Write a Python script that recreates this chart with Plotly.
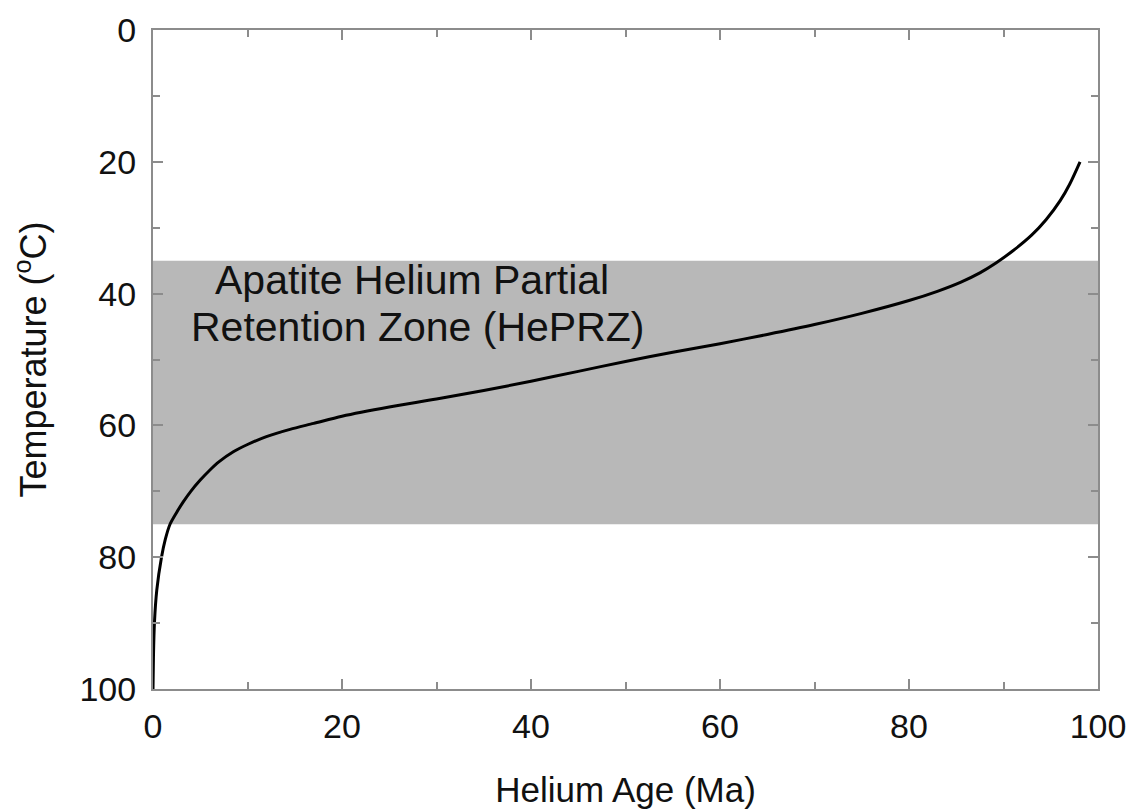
import plotly.graph_objects as go

# Helium age vs. temperature curve (age in Ma, temperature in °C)
helium_age_ma = [0, 0.05, 0.15, 0.4, 0.9, 1.3, 1.8, 2.5, 3.2, 4, 5, 6, 7, 8.5, 10,
                 12, 14.5, 17, 20, 25, 30, 35, 40, 45, 50, 55, 60, 65, 70, 75, 80,
                 83, 85.5, 87.5, 89.2, 91, 93, 94.5, 96, 97, 98.1]
temperature_c = [100, 95, 90, 85, 80, 77.3, 75, 73.2, 71.6, 70.0, 68.3, 66.8, 65.5, 64.0, 62.9,
                 61.7, 60.6, 59.7, 58.6, 57.2, 56.0, 54.7, 53.3, 51.8, 50.3, 48.9, 47.6, 46.2, 44.7, 43.0, 41.05,
                 39.65, 38.25, 36.85, 35.35, 33.5, 31.1, 28.8, 25.9, 23.4, 20.0]

# Partial retention zone bounds (°C)
prz_top_c = 35
prz_bottom_c = 75
prz_label_lines = ["Apatite Helium Partial", "Retention Zone (HePRZ)"]

x_ticks = [0, 20, 40, 60, 80, 100]
y_ticks = [0, 20, 40, 60, 80, 100]

axis_grey = "#8c8c8c"
text_color = "#111111"
font_family = "Liberation Sans, Arial, sans-serif"

fig = go.Figure()

fig.add_shape(type="rect", xref="x", yref="y", x0=0, x1=100,
              y0=prz_top_c, y1=prz_bottom_c,
              fillcolor="#b8b8b8", line=dict(width=0), layer="below")

fig.add_trace(go.Scatter(x=helium_age_ma, y=temperature_c, mode="lines",
                         line=dict(color="#000000", width=3, shape="spline", smoothing=0.8),
                         hoverinfo="skip", showlegend=False))

# Zone label, one annotation per line for tighter line spacing
for line_text, ax, ay in zip(prz_label_lines, [27.4, 28.0], [38.0, 45.1]):
    fig.add_annotation(x=ax, y=ay, xref="x", yref="y", text=line_text,
                       showarrow=False, xanchor="center", yanchor="middle",
                       font=dict(family=font_family, size=41, color=text_color))

axis_common = dict(showline=True, linecolor=axis_grey, linewidth=2, mirror="ticks",
                   ticks="inside", ticklen=10, tickwidth=2, tickcolor=axis_grey,
                   showgrid=False, zeroline=False,
                   tickfont=dict(family=font_family, size=34, color=text_color),
                   minor=dict(dtick=10, ticks="inside", ticklen=7, tickwidth=2,
                              tickcolor=axis_grey, showgrid=False))

fig.update_xaxes(range=[0, 100], tickvals=x_ticks, ticklabelstandoff=6,
                 title=dict(text="Helium Age (Ma)", standoff=34,
                            font=dict(family=font_family, size=35, color=text_color)),
                 **axis_common)
fig.update_yaxes(range=[100, 0], tickvals=y_ticks, ticklabelstandoff=8,
                 title=dict(text="Temperature (<sup>o</sup>C)", standoff=22,
                            font=dict(family=font_family, size=36, color=text_color)),
                 **axis_common)

fig.update_layout(width=1131, height=810,
                  margin=dict(l=153, r=33, t=30, b=121, autoexpand=False),
                  paper_bgcolor="white", plot_bgcolor="white",
                  font=dict(family=font_family, color=text_color))

fig.write_html("out.html")
